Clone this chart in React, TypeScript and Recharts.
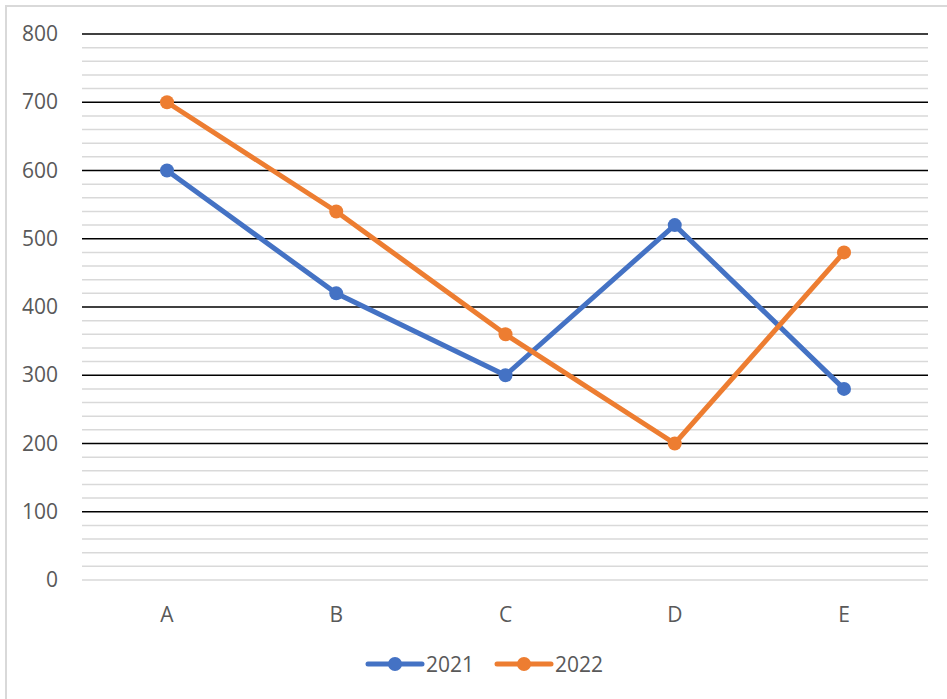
import {Legend, Line, LineChart, ReferenceLine, XAxis, YAxis} from "recharts";

const categories = ['A', 'B', 'C', 'D', 'E'];
const values2021 = [600, 420, 300, 520, 280];
const values2022 = [700, 540, 360, 200, 480];
const majorTicks = [0, 100, 200, 300, 400, 500, 600, 700, 800];
const minorTicks = [20, 40, 60, 80, 120, 140, 160, 180, 220, 240, 260, 280, 320, 340, 360, 380,
    420, 440, 460, 480, 520, 540, 560, 580, 620, 640, 660, 680, 720, 740, 760, 780];

const data = categories.map((c, i) => ({name: c, y2021: values2021[i], y2022: values2022[i]}));

const font = '"Open Sans", "Noto Sans", sans-serif';

const YTick = ({x, y, payload}: any) => (
    <text x={x} y={y} dy={7} textAnchor="end" fill="#595959" fontSize={21} fontFamily={font}>{payload.value}</text>
);

const XTick = ({x, y, payload}: any) => (
    <text x={x} y={y} dy={28} textAnchor="middle" fill="#595959" fontSize={21} fontFamily={font}>{payload.value}</text>
);

const LegendBox = () => {
    const items = [{label: '2021', color: '#4472C4'}, {label: '2022', color: '#ED7D31'}];
    return (
        <div style={{display: 'flex', justifyContent: 'center', gap: 20, paddingLeft: 28, fontFamily: font, fontSize: 21, color: '#595959'}}>
            {items.map((it) => (
                <div key={it.label} style={{display: 'flex', alignItems: 'center'}}>
                    <svg width={60} height={24}>
                        <line x1={3} y1={12} x2={57} y2={12} stroke={it.color} strokeWidth={5} strokeLinecap="round"/>
                        <circle cx={30} cy={12} r={7} fill={it.color}/>
                    </svg>
                    <span style={{marginLeft: 1}}>{it.label}</span>
                </div>
            ))}
        </div>
    );
};

const App = () => {
    return (
        <div style={{position: 'absolute', left: 0, top: 0, width: 947, height: 699, background: '#fff'}}>
            <div style={{position: 'absolute', left: 5, top: 5, width: 942, height: 694, borderLeft: '2px solid #d9d9d9', borderTop: '2px solid #d9d9d9'}}/>
            <LineChart width={947} height={699} data={data} margin={{top: 34, right: 19, left: 12, bottom: 21}}>
                {minorTicks.map((v) => (
                    <ReferenceLine key={`m-${v}`} y={v} stroke="#d9d9d9" strokeWidth={1.5}/>
                ))}
                {majorTicks.filter((v) => v > 0).map((v) => (
                    <ReferenceLine key={`M-${v}`} y={v} stroke="#000" strokeWidth={1.5}/>
                ))}
                <ReferenceLine y={0} stroke="#d9d9d9" strokeWidth={1.5}/>
                <XAxis dataKey="name" axisLine={false} tickLine={false} tickSize={0} tickMargin={14} height={70}
                       padding={{left: 85, right: 84}} tick={<XTick/>}/>
                <YAxis domain={[0, 800]} ticks={majorTicks} axisLine={false} tickLine={false} tickSize={0} tickMargin={24}
                       width={70} tick={<YTick/>}/>
                <Legend verticalAlign="bottom" content={() => <LegendBox/>}/>
                <Line dataKey="y2021" stroke="#4472C4" strokeWidth={5} dot={{r: 7, fill: '#4472C4', stroke: '#4472C4', strokeWidth: 0}}
                      isAnimationActive={false}/>
                <Line dataKey="y2022" stroke="#ED7D31" strokeWidth={5} dot={{r: 7, fill: '#ED7D31', stroke: '#ED7D31', strokeWidth: 0}}
                      isAnimationActive={false}/>
            </LineChart>
        </div>
    );
};

export default App;
